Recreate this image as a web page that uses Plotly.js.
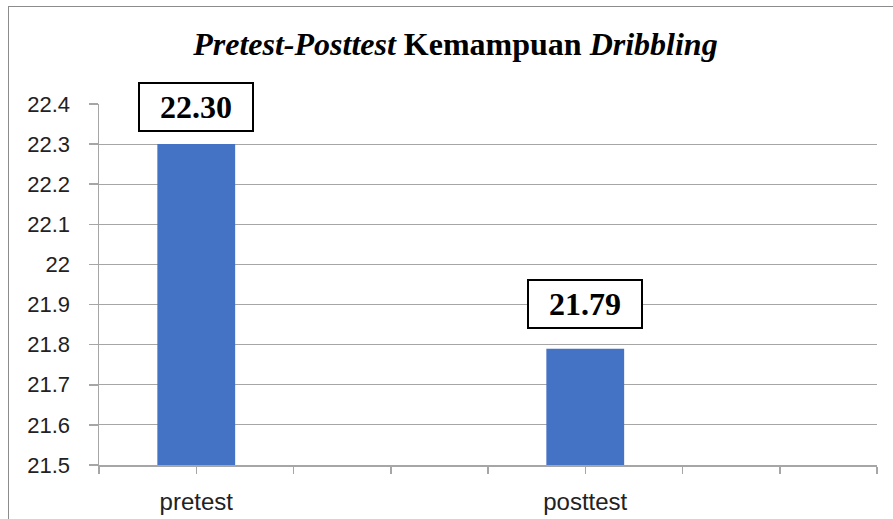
<!DOCTYPE html>
<html>
<head>
<meta charset="utf-8">
<script src="https://cdn.plot.ly/plotly-3.0.1.min.js"></script>
<style>
html,body{margin:0;padding:0;background:#fff;overflow:hidden;}
#frame{position:absolute;left:8px;top:6px;width:900px;height:530px;border:1px solid #8c8c8c;box-sizing:border-box;}
#chart{position:absolute;left:0;top:0;width:893px;height:519px;}
</style>
</head>
<body>
<div id="frame"></div>
<div id="chart"></div>
<script>
// Data
const categories = ['pretest', 'posttest'];
const values = [22.30, 21.79];
const valueLabels = ['22.30', '21.79'];
const yTickValues = [21.5, 21.6, 21.7, 21.8, 21.9, 22, 22.1, 22.2, 22.3, 22.4];
const yTickLabels = ['21.5', '21.6', '21.7', '21.8', '21.9', '22', '22.1', '22.2', '22.3', '22.4'];

// Layout slots: the category axis has 8 equal slots, categories sit on slots 0 and 4
const slotOf = categories.map((c, i) => i * 4);
const xTickVals = [-1, 0, 1, 2, 3, 4, 5, 6, 7];
const xTickText = xTickVals.map(v => { const k = slotOf.indexOf(v); return k >= 0 ? categories[k] : ''; });

const trace = {
  type: 'bar',
  x: slotOf,
  y: values,
  width: 0.8,
  marker: {color: '#4472C4'},
  hoverinfo: 'none'
};

const labelShift = [12, 20];
const annotations = categories.map((c, i) => ({
  x: slotOf[i], y: values[i], xref: 'x', yref: 'y',
  text: '<b>' + valueLabels[i] + '</b>',
  showarrow: false, xanchor: 'center', yanchor: 'bottom',
  yshift: labelShift[i],
  font: {family: 'Liberation Serif, Times New Roman, serif', size: 32, color: '#000'},
  bgcolor: '#fff', bordercolor: '#000', borderwidth: 2, borderpad: 0,
  width: 112, height: 46
}));

const layout = {
  width: 893, height: 519,
  margin: {l: 99, r: 16, t: 104, b: 54},
  paper_bgcolor: 'rgba(0,0,0,0)',
  plot_bgcolor: '#fff',
  showlegend: false,
  title: {
    text: '<b><i>Pretest-Posttest</i> Kemampuan <i>Dribbling</i></b>',
    font: {family: 'Liberation Serif, Times New Roman, serif', size: 32, color: '#000'},
    x: 0.51, xanchor: 'center', xref: 'container',
    y: 0.915, yanchor: 'middle'
  },
  xaxis: {
    range: [-1, 7],
    tickmode: 'array', tickvals: xTickVals, ticktext: xTickText,
    showgrid: false, zeroline: false,
    showline: true, linecolor: '#a6a6a6', linewidth: 1.5,
    ticks: 'outside', ticklen: 7, tickcolor: '#a6a6a6', tickwidth: 1.5,
    ticklabelstandoff: 8,
    tickfont: {family: 'Liberation Sans, Arial, sans-serif', size: 24, color: '#222'},
    fixedrange: true
  },
  yaxis: {
    range: [21.5, 22.4],
    tickmode: 'array', tickvals: yTickValues, ticktext: yTickLabels,
    showgrid: true, gridcolor: '#a6a6a6', gridwidth: 1.2,
    zeroline: false,
    showline: true, linecolor: '#a6a6a6', linewidth: 1.5,
    ticks: 'outside', ticklen: 9, tickcolor: '#a6a6a6', tickwidth: 1.5,
    ticklabelstandoff: 14,
    tickfont: {family: 'Liberation Sans, Arial, sans-serif', size: 22, color: '#222'},
    fixedrange: true
  },
  annotations: annotations
};

Plotly.newPlot('chart', [trace], layout, {displayModeBar: false, staticPlot: true});
</script>
</body>
</html>
